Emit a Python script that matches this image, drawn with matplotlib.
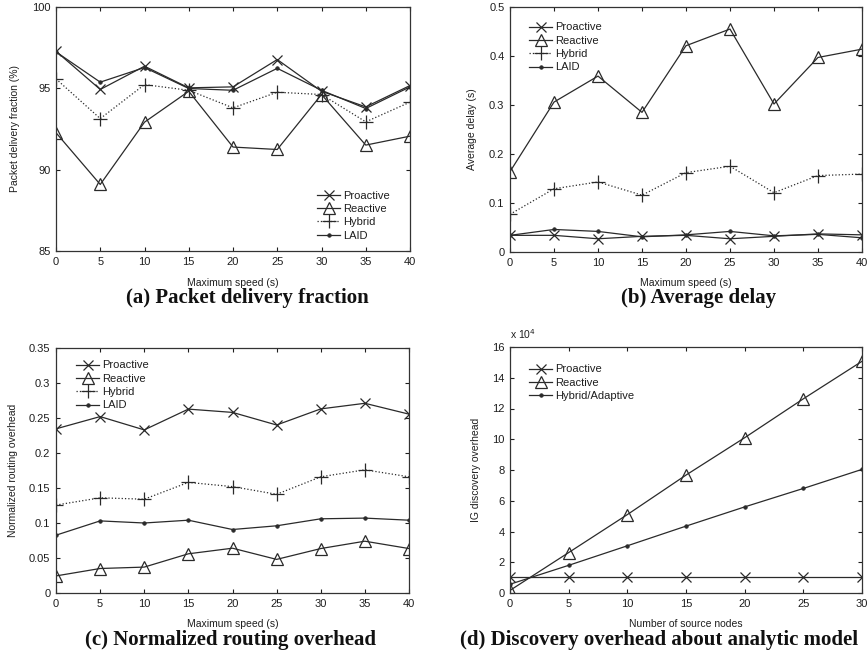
import matplotlib
matplotlib.use("Agg")
import matplotlib.pyplot as plt

plt.rcParams['font.family'] = ['Liberation Sans', 'DejaVu Sans']

# ---------------- data ----------------
speed = [0, 5, 10, 15, 20, 25, 30, 35, 40]

pdf_proactive = [97.28, 94.93, 96.36, 95.03, 95.09, 96.77, 94.82, 93.86, 95.17]
pdf_reactive  = [92.27, 89.09, 92.92, 94.82, 91.39, 91.24, 94.62, 91.51, 92.06]
pdf_hybrid    = [95.58, 93.14, 95.23, 94.88, 93.80, 94.76, 94.62, 92.94, 94.15]
pdf_laid      = [97.24, 95.38, 96.28, 94.99, 94.88, 96.23, 94.88, 93.76, 95.09]

delay_proactive = [0.034, 0.034, 0.027, 0.032, 0.034, 0.027, 0.032, 0.037, 0.035]
delay_reactive  = [0.164, 0.306, 0.359, 0.285, 0.421, 0.455, 0.302, 0.397, 0.414]
delay_hybrid    = [0.077, 0.129, 0.143, 0.116, 0.162, 0.175, 0.121, 0.156, 0.159]
delay_laid      = [0.034, 0.046, 0.042, 0.031, 0.035, 0.042, 0.033, 0.036, 0.029]

nro_proactive = [0.2345, 0.252, 0.233, 0.2627, 0.258, 0.240, 0.263, 0.271, 0.2555]
nro_reactive  = [0.0244, 0.035, 0.037, 0.056, 0.064, 0.048, 0.0635, 0.074, 0.0635]
nro_hybrid    = [0.1256, 0.136, 0.134, 0.158, 0.152, 0.141, 0.166, 0.176, 0.166]
nro_laid      = [0.0826, 0.103, 0.100, 0.104, 0.0907, 0.096, 0.106, 0.107, 0.104]

nodes = [0, 5, 10, 15, 20, 25, 30]
ig_proactive = [1.04, 1.04, 1.04, 1.04, 1.04, 1.04, 1.04]   # x 10^4
ig_reactive  = [0.17, 2.63, 5.10, 7.67, 10.1, 12.63, 15.07]
ig_hybrid    = [0.57, 1.80, 3.07, 4.35, 5.60, 6.80, 8.04]

captions = ["(a) Packet delivery fraction", "(b) Average delay",
            "(c) Normalized routing overhead", "(d) Discovery overhead about analytic model"]

# ---------------- figure ----------------
W, H = 868, 656
fig = plt.figure(figsize=(W / 100, H / 100), dpi=100)

LC = '#2a2a2a'
TXT = '#1e1e1e'

def make_axes(left, right, top, bottom):
    return fig.add_axes([left / W, (H - bottom) / H, (right - left) / W, (bottom - top) / H])

def style(ax):
    ax.tick_params(direction='in', top=True, right=True, length=3, width=0.8,
                   labelsize=8, colors=TXT, pad=4)
    for s in ax.spines.values():
        s.set_linewidth(0.9)
        s.set_color('#333333')

mk = dict(
    proactive=dict(marker='x', markersize=7.5, mew=0.9),
    reactive=dict(marker='^', markersize=9, mew=0.9, fillstyle='none'),
    hybrid=dict(marker='+', markersize=9.5, mew=0.9),
    laid=dict(marker='o', markersize=2.5, mew=0.6),
)

def plot4(ax, x, p, r, h, l, names):
    ax.plot(x, p, '-', color=LC, lw=0.9, label=names[0], **mk['proactive'])
    ax.plot(x, r, '-', color=LC, lw=0.9, label=names[1], **mk['reactive'])
    if h is not None:
        ax.plot(x, h, ':', color=LC, lw=0.9, label=names[2], **mk['hybrid'])
    ax.plot(x, l, '-', color=LC, lw=0.9, label=names[3], **mk['laid'])

def leg(ax, loc, bbox):
    lg = ax.legend(loc=loc, bbox_to_anchor=bbox, frameon=False, fontsize=8,
                   handlelength=2.0, handletextpad=0.3, labelspacing=0.3,
                   borderaxespad=0.0)
    for t in lg.get_texts():
        t.set_color(TXT)

names = ["Proactive", "Reactive", "Hybrid", "LAID"]

# (a)
ax = make_axes(56, 410, 7, 251)
plot4(ax, speed, pdf_proactive, pdf_reactive, pdf_hybrid, pdf_laid, names)
ax.set_xlim(0, 40); ax.set_ylim(85, 100)
ax.set_xticks(speed); ax.set_yticks([85, 90, 95, 100])
style(ax)
ax.set_xlabel("Maximum speed (s)", fontsize=7.5, color=TXT, va='center')
ax.xaxis.set_label_coords(0.5, (251 - 283) / 244)
ax.set_ylabel("Packet delivery fraction (%)", fontsize=7.5, color=TXT, va='center')
ax.yaxis.set_label_coords((15 - 56) / 354, 0.5)
leg(ax, 'lower left', ((313 - 56) / 354, (251 - 245) / 244))

# (b)
ax = make_axes(510, 862, 7, 252)
plot4(ax, speed, delay_proactive, delay_reactive, delay_hybrid, delay_laid, names)
ax.set_xlim(0, 40); ax.set_ylim(0, 0.5)
ax.set_xticks(speed); ax.set_yticks([0, 0.1, 0.2, 0.3, 0.4, 0.5])
ax.set_yticklabels(["0", "0.1", "0.2", "0.3", "0.4", "0.5"])
style(ax)
ax.set_xlabel("Maximum speed (s)", fontsize=7.5, color=TXT, va='center')
ax.xaxis.set_label_coords(0.5, (252 - 283) / 245)
ax.set_ylabel("Average delay (s)", fontsize=7.5, color=TXT, va='center')
ax.yaxis.set_label_coords((472 - 510) / 352, 0.5)
leg(ax, 'upper left', ((525 - 510) / 352, 1 - (18 - 7) / 245))

# (c)
ax = make_axes(56, 409, 348, 593)
plot4(ax, speed, nro_proactive, nro_reactive, nro_hybrid, nro_laid, names)
ax.set_xlim(0, 40); ax.set_ylim(0, 0.35)
ax.set_xticks(speed); ax.set_yticks([0, 0.05, 0.1, 0.15, 0.2, 0.25, 0.3, 0.35])
ax.set_yticklabels(["0", "0.05", "0.1", "0.15", "0.2", "0.25", "0.3", "0.35"])
style(ax)
ax.set_xlabel("Maximum speed (s)", fontsize=7.5, color=TXT, va='center')
ax.xaxis.set_label_coords(0.5, (593 - 624) / 245)
ax.set_ylabel("Normalized routing overhead", fontsize=7.5, color=TXT, va='center')
ax.yaxis.set_label_coords((13 - 56) / 353, 0.5)
leg(ax, 'upper left', ((72 - 56) / 353, 1 - (356 - 348) / 245))

# (d)
ax = make_axes(510, 862, 347, 593)
ax.plot(nodes, ig_proactive, '-', color=LC, lw=0.9, label="Proactive", **mk['proactive'])
ax.plot(nodes, ig_reactive, '-', color=LC, lw=0.9, label="Reactive", **mk['reactive'])
ax.plot(nodes, ig_hybrid, '-', color=LC, lw=0.9, label="Hybrid/Adaptive", **mk['laid'])
ax.set_xlim(0, 30); ax.set_ylim(0, 16)
ax.set_xticks(nodes); ax.set_yticks(range(0, 17, 2))
style(ax)
ax.set_xlabel("Number of source nodes", fontsize=7.5, color=TXT, va='center')
ax.xaxis.set_label_coords(0.5, (593 - 624) / 246)
ax.set_ylabel("IG discovery overhead", fontsize=7.5, color=TXT, va='center')
ax.yaxis.set_label_coords((476 - 510) / 352, 0.5)
ax.text(0.0, 1.0 + (347 - 334) / 246, r"x 10$^{4}$", transform=ax.transAxes,
        fontsize=7.5, color=TXT, ha='left', va='center')
leg(ax, 'upper left', ((525 - 510) / 352, 1 - (360 - 347) / 246))

# captions
cap_kw = dict(fontsize=15, fontweight='bold', family=['Liberation Serif', 'DejaVu Serif'],
              ha='center', va='center', color='#111111')
fig.text(247 / W, 1 - 298 / H, captions[0], **cap_kw)
fig.text(699 / W, 1 - 298 / H, captions[1], **cap_kw)
fig.text(230 / W, 1 - 640 / H, captions[2], **cap_kw)
fig.text(659 / W, 1 - 640 / H, captions[3], **cap_kw)

fig.savefig("out.png", dpi=100)
